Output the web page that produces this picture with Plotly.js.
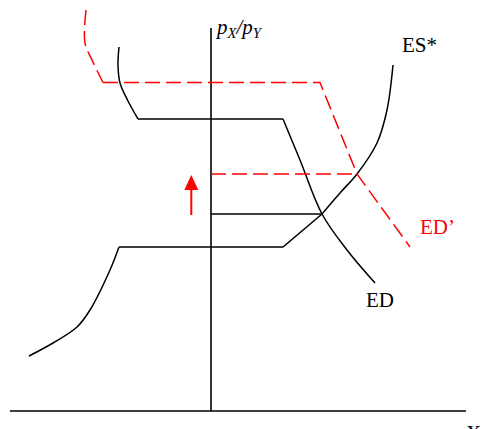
<!DOCTYPE html>
<html><head><meta charset="utf-8">
<script src="https://cdn.plot.ly/plotly-3.0.1.min.js"></script>
<style>html,body{margin:0;padding:0;background:#fff;}</style>
</head><body><div id="chart" style="width:483px;height:429px;"></div>
<script>
// Axes (quantity X, relative price pX/pY)
const axisVX = [0, 0], axisVY = [0, 38.3];
const axisHX = [-20.1, 25.5], axisHY = [0, 0];

// ED (black) segments
const edTopX = [-9.2, -9.3, -9.1, -8.3, -7.3];
const edTopY = [36.4, 34.6, 32.8, 31.0, 29.2];
const edFlatX = [-7.3, 7.2];
const edFlatY = [29.2, 29.2];
const edLowX = [7.2, 8.9, 11.1, 13.6, 16.4];
const edLowY = [29.2, 25.1, 19.7, 16.1, 12.8];

// ES* (black) segments
const esLowX = [-18.2, -15.8, -13.4, -12.1, -10.1, -9.2];
const esLowY = [5.5, 6.8, 8.4, 10.1, 14.1, 16.4];
const esMidX = [-9.2, 7.2, 11.1];
const esMidY = [16.4, 16.4, 19.7];
const esTopX = [11.1, 12.9, 14.6, 16.6, 17.6, 18.2];
const esTopY = [19.7, 21.8, 23.7, 26.8, 30.1, 34.6];

// ED' (red dashed) segments
const edpTopX = [-12.5, -12.6, -11.9, -10.8];
const edpTopY = [40.1, 36.8, 35.1, 32.85];
const edpRestX = [-10.8, 10.9, 14.6, 19.9];
const edpRestY = [32.85, 32.85, 23.7, 16.4];

// Equilibrium price lines
const eqOldX = [0, 11.1], eqOldY = [19.7, 19.7];
const eqNewX = [0, 14.6], eqNewY = [23.7, 23.7];

// Arrow
const arrowShaftX = [-1.97, -1.97], arrowShaftY = [19.6, 22.1];
const arrowHeadX = [-2.67, -1.27, -1.97], arrowHeadY = [22.1, 22.1, 23.6];

const BLACK = '#000000', RED = '#ff0000';
const blk = {color: BLACK, width: 1.5};
const blkS = {color: BLACK, width: 1.5, shape: 'spline'};
const redD = {color: RED, width: 1.5, dash: '15px,6px'};
const redDS = {color: RED, width: 1.5, dash: '15px,6px', shape: 'spline'};

function ln(x, y, line, extra) {
  return Object.assign({x: x, y: y, type: 'scatter', mode: 'lines', line: line, hoverinfo: 'skip'}, extra || {});
}

const data = [
  ln(axisVX, axisVY, {color: BLACK, width: 1.6}),
  ln(axisHX, axisHY, {color: BLACK, width: 1.6}),
  ln(edTopX, edTopY, blkS),
  ln(edFlatX, edFlatY, blk),
  ln(edLowX, edLowY, blkS),
  ln(esLowX, esLowY, blkS),
  ln(esMidX, esMidY, blk),
  ln(esTopX, esTopY, blkS),
  ln(eqOldX, eqOldY, blk),
  ln(edpTopX, edpTopY, redDS),
  ln(edpRestX, edpRestY, redD),
  ln(eqNewX, eqNewY, redD),
  ln(arrowShaftX, arrowShaftY, {color: RED, width: 2}),
  ln(arrowHeadX, arrowHeadY, {color: RED, width: 0}, {fill: 'toself', fillcolor: RED})
];

const font = {family: 'Liberation Serif, Times New Roman, serif', size: 21, color: BLACK};
function ann(text, x, y, xa, ya, col, size) {
  return {text: text, x: x, y: y, xref: 'x', yref: 'y', showarrow: false,
          xanchor: xa, yanchor: ya,
          font: Object.assign({}, font, {color: col || BLACK, size: size || 21})};
}

const layout = {
  width: 483, height: 429,
  margin: {l: 0, r: 0, t: 0, b: 0},
  paper_bgcolor: '#ffffff', plot_bgcolor: '#ffffff',
  showlegend: false,
  xaxis: {range: [-21.1, 27.2], visible: false, fixedrange: true},
  yaxis: {range: [-1.8, 41.1], visible: false, fixedrange: true},
  annotations: [
    ann('<i>p<sub>X</sub>/p<sub>Y</sub></i>', 0.2, 38.3, 'left', 'middle', BLACK, 21),
    ann('ES*', 18.9, 36.65, 'left', 'middle'),
    ann('ED\u2019', 20.7, 18.45, 'left', 'middle', RED),
    ann('ED', 15.3, 11.15, 'left', 'middle'),
    ann('X', 25.3, -0.75, 'left', 'top')
  ]
};

Plotly.newPlot('chart', data, layout, {staticPlot: true, displayModeBar: false});
</script></body></html>
